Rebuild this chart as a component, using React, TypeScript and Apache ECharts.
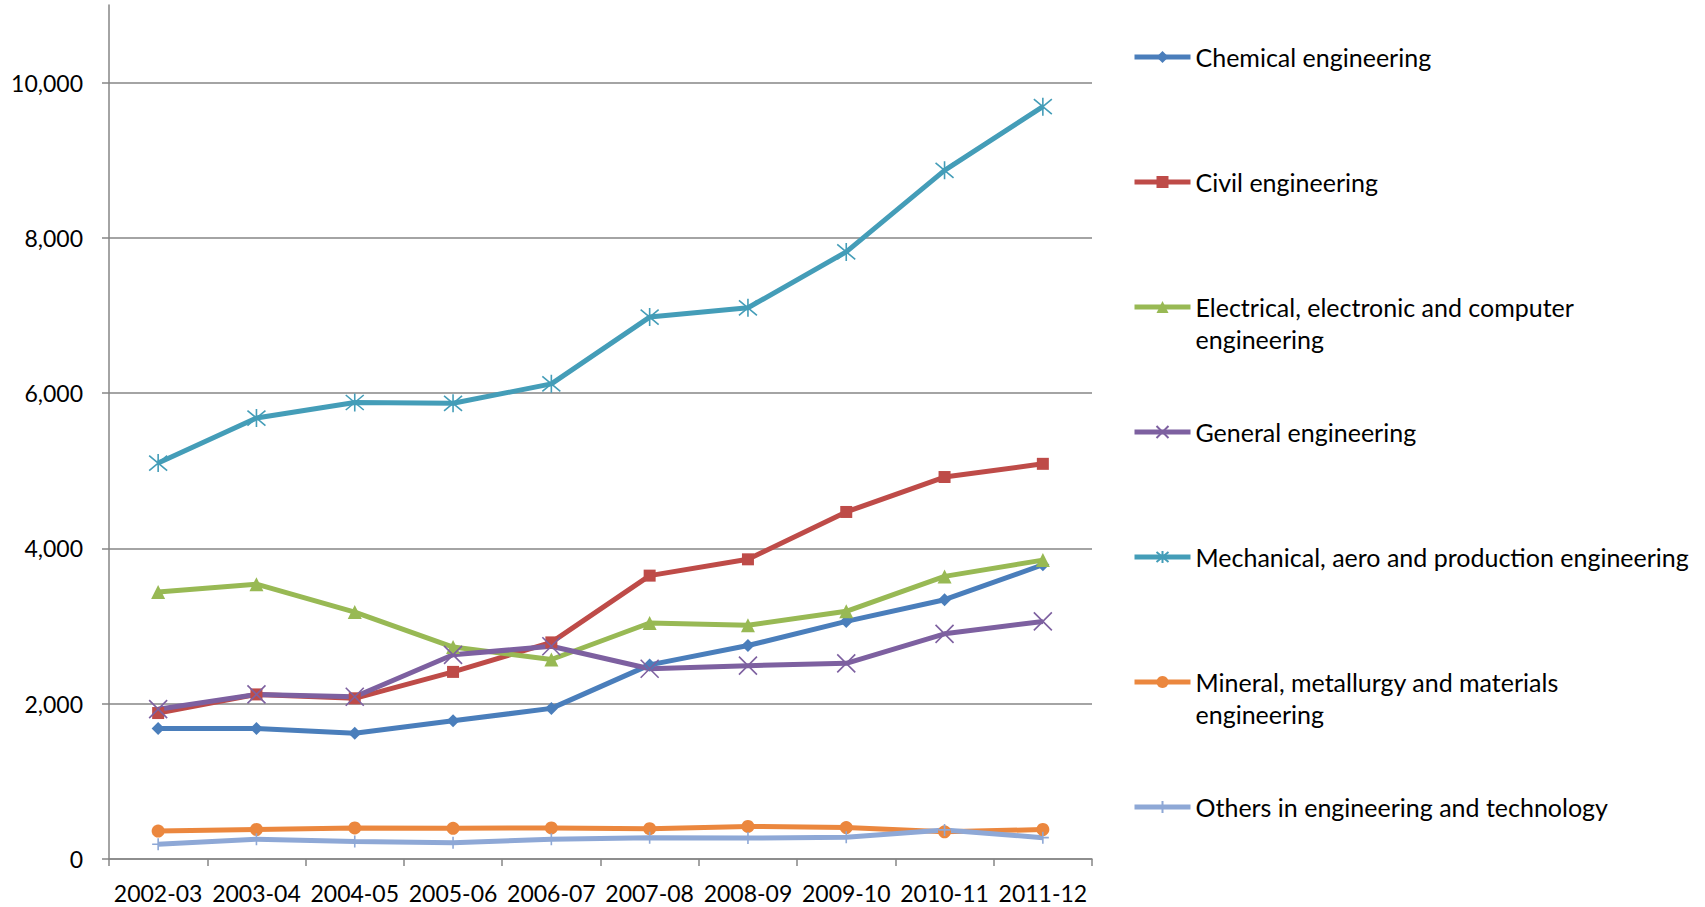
import React, { useEffect, useRef } from "react";
import * as echarts from "echarts";

const categories = ["2002-03", "2003-04", "2004-05", "2005-06", "2006-07", "2007-08", "2008-09", "2009-10", "2010-11", "2011-12"];

const seriesNames = [
  "Chemical engineering",
  "Civil engineering",
  "Electrical, electronic and computer engineering",
  "General engineering",
  "Mechanical, aero and production engineering",
  "Mineral, metallurgy and materials engineering",
  "Others in engineering and technology",
];

const legendLabels = [
  "Chemical engineering",
  "Civil engineering",
  "Electrical, electronic and computer\nengineering",
  "General engineering",
  "Mechanical, aero and production engineering",
  "Mineral, metallurgy and materials\nengineering",
  "Others in engineering and technology",
];

const chemical = [1680, 1680, 1620, 1780, 1940, 2500, 2750, 3060, 3340, 3790];
const civil = [1880, 2120, 2070, 2410, 2790, 3650, 3860, 4470, 4920, 5090];
const electrical = [3440, 3540, 3180, 2730, 2570, 3040, 3010, 3190, 3640, 3850];
const general = [1930, 2120, 2090, 2630, 2740, 2450, 2490, 2520, 2900, 3060];
const mechanical = [5100, 5680, 5880, 5870, 6120, 6980, 7100, 7820, 8870, 9690];
const mineral = [360, 380, 400, 395, 400, 390, 420, 405, 350, 380];
const others = [190, 255, 225, 210, 255, 275, 270, 280, 375, 275];

const yTicks = [0, 2000, 4000, 6000, 8000, 10000];

const colors = ["#4A7EBB", "#BE4B48", "#98B954", "#7D60A0", "#449DB8", "#EB873E", "#8EA8D6"];

const X_PATH = "path://M0,0L10,10M10,0L0,10";
const STAR_PATH = "path://M0,0L10,10M10,0L0,10M5,-1L5,11";
const PLUS_PATH = "path://M5,0L5,10M0,5L10,5";

export default function App() {
  const ref = useRef<HTMLDivElement>(null);

  useEffect(() => {
    if (!ref.current) return;
    const chart = echarts.init(ref.current, null, { renderer: "svg" });
    const data = [chemical, civil, electrical, general, mechanical, mineral, others];
    const symbols: any[] = ["diamond", "rect", "triangle", X_PATH, STAR_PATH, "circle", PLUS_PATH];
    const sizes: any[] = [13, 12, 14, 18, 18, 13, 12];
    const stroked = [false, false, false, true, true, false, true];

    const font = "Lato, 'DejaVu Sans', sans-serif";
    const lineH = 32;
    const legendCenter0 = 57;
    const legendStep = 125;

    const series = data.map((d, i) => ({
      name: seriesNames[i],
      type: "line",
      data: d,
      symbol: symbols[i],
      symbolSize: sizes[i],
      showSymbol: true,
      lineStyle: { width: 5, color: colors[i] },
      itemStyle: stroked[i]
        ? { color: colors[i], borderColor: colors[i], borderWidth: 1.6 }
        : { color: colors[i] },
      emphasis: { disabled: true },
    }));

    const legends = seriesNames.map((n, i) => {
      const twoLine = legendLabels[i].includes("\n");
      const center = legendCenter0 + legendStep * i;
      return {
        data: [n],
        orient: "vertical",
        left: 1132,
        top: twoLine ? center - lineH * 1.5 : center - lineH / 2,
        padding: 0,
        itemWidth: 56,
        itemHeight: 15,
        selectedMode: false,
        lineStyle: { width: 5 },
        formatter: () => (twoLine ? "\n" + legendLabels[i] : legendLabels[i]),
        textStyle: {
          fontFamily: font,
          fontSize: 25,
          color: "#000",
          lineHeight: lineH,
        },
      };
    });

    chart.setOption({
      animation: false,
      backgroundColor: "#fff",
      grid: { left: 109, right: 613, top: 5, bottom: 48, containLabel: false },
      xAxis: {
        type: "category",
        data: categories,
        boundaryGap: true,
        axisLine: { show: true, lineStyle: { color: "#868686", width: 1.5 } },
        axisTick: { show: true, interval: 0, length: 7, lineStyle: { color: "#868686", width: 1.5 } },
        axisLabel: { interval: 0, margin: 22, color: "#000", fontFamily: font, fontSize: 23 },
        splitLine: { show: false },
      },
      yAxis: {
        type: "value",
        min: 0,
        max: 11000,
        interval: 2000,
        axisLine: { show: true, lineStyle: { color: "#868686", width: 1.5 } },
        axisTick: { show: true, length: 7, customValues: yTicks, lineStyle: { color: "#868686", width: 1.5 } },
        axisLabel: {
          customValues: yTicks,
          margin: 26,
          color: "#000",
          fontFamily: font,
          fontSize: 23,
          formatter: (v: number) => v.toLocaleString("en-US"),
        },
        splitLine: { show: true, lineStyle: { color: "#868686", width: 1.5 } },
      },
      legend: legends,
      series,
    });
    return () => chart.dispose();
  }, []);

  return (
    <div
      ref={ref}
      style={{ position: "absolute", left: 0, top: 0, width: 1705, height: 907, background: "#fff" }}
    />
  );
}
